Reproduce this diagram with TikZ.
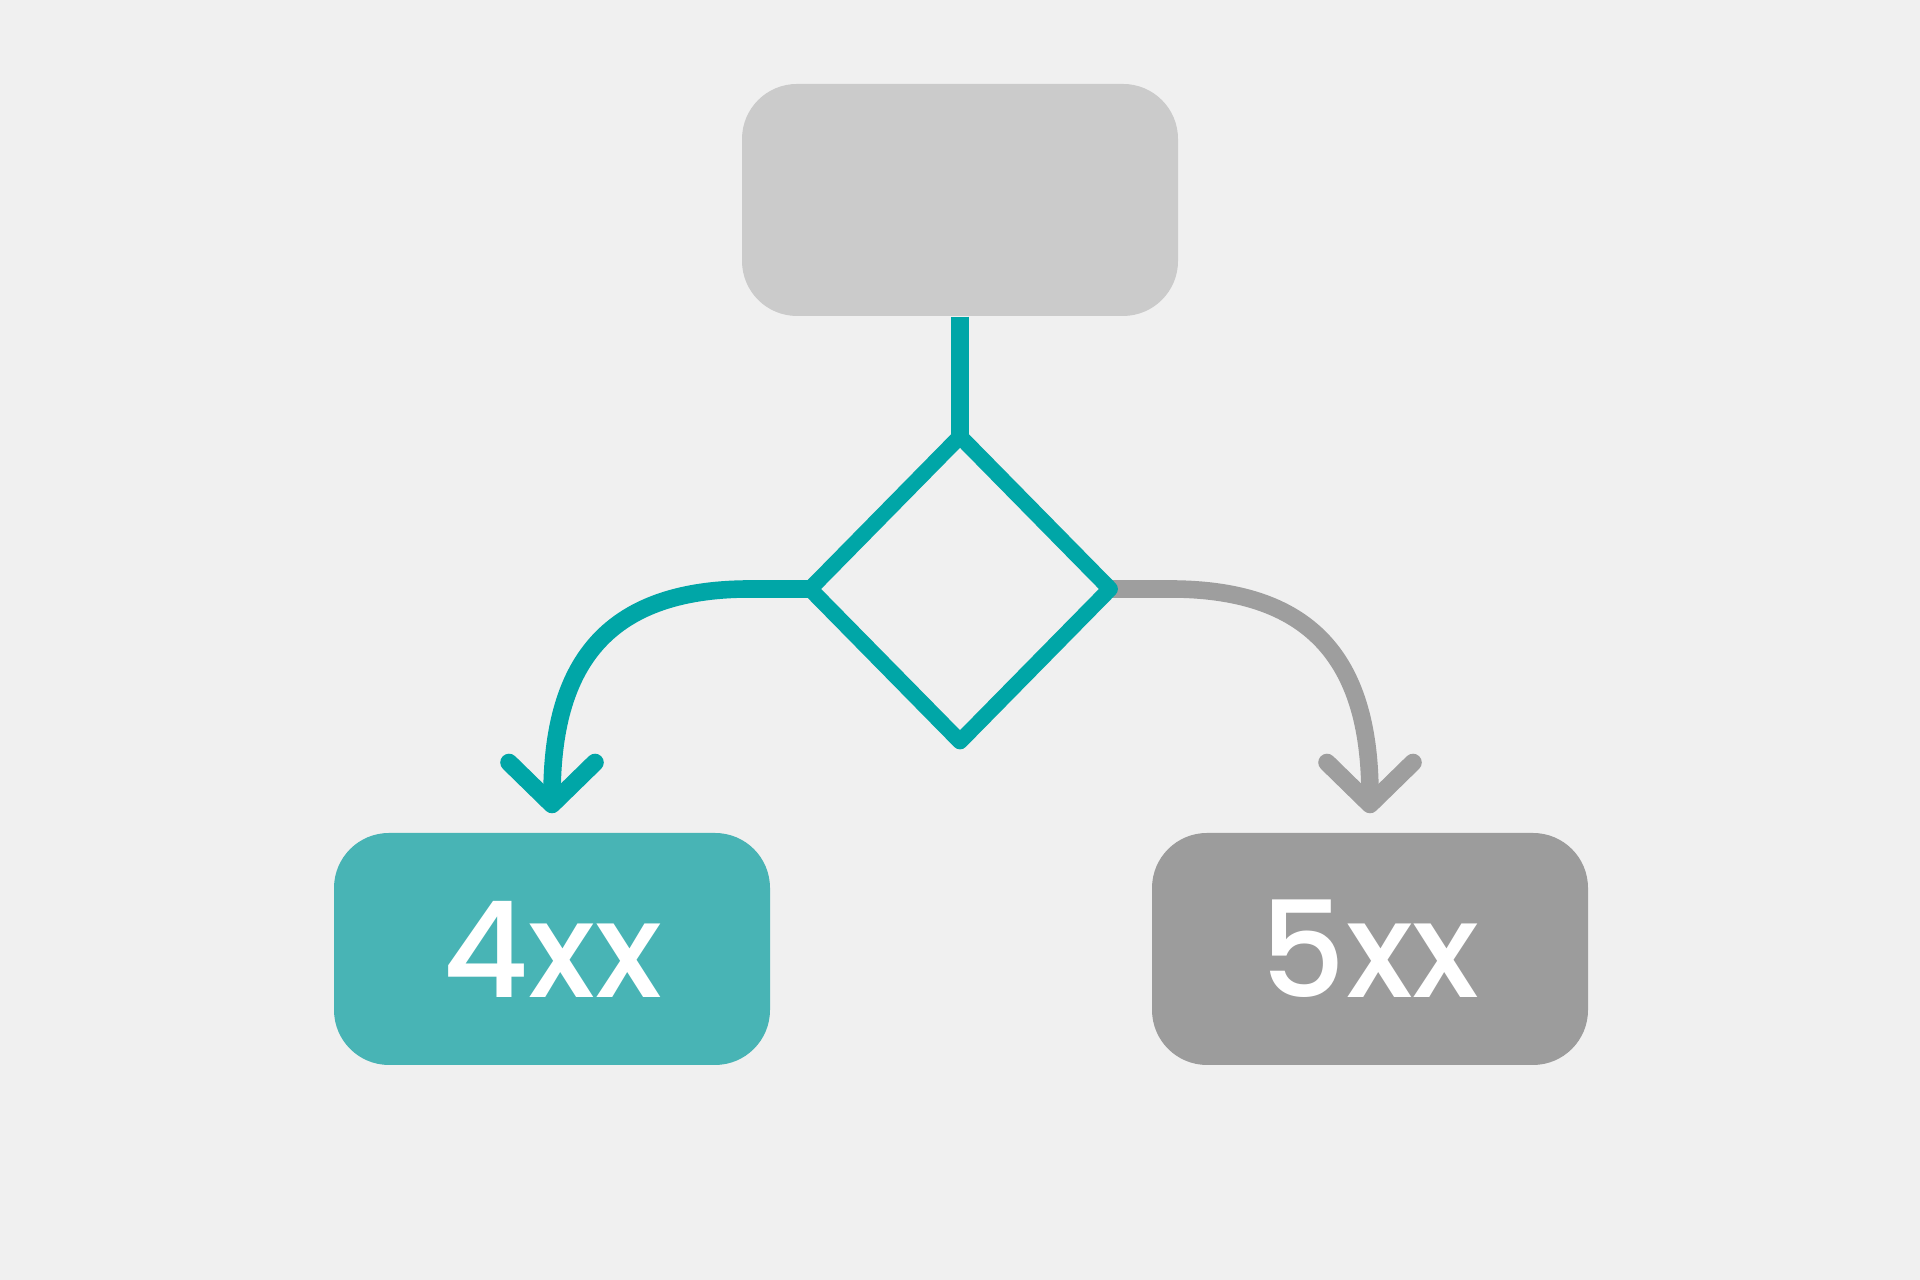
\documentclass[tikz,border=0pt]{standalone}
\usepackage{fontspec}
\setmainfont{Poppins}[BoldFont={Poppins Medium}]
\usetikzlibrary{shapes.geometric,arrows.meta,backgrounds}
\definecolor{bgcol}{HTML}{F0F0F0}
\definecolor{topgray}{HTML}{CBCBCB}
\definecolor{linkteal}{HTML}{00A6A7}
\definecolor{tealbox}{HTML}{48B4B5}
\definecolor{graybox}{HTML}{9C9C9C}
\definecolor{arrgray}{HTML}{9E9E9E}
\begin{document}
\begin{tikzpicture}
  \tikzstyle{box}=[rounded corners=0.55cm, minimum width=4.36cm, minimum height=2.32cm, inner sep=0pt]
  \tikzstyle{code}=[text=white, font=\fontsize{38}{40}\selectfont\bfseries]
  \tikzstyle{link}=[line width=5pt, line cap=round, -{Straight Barb[length=0.42cm,width=0.86cm,round]}]
  \useasboundingbox (0,0) rectangle (19.2,12.8);
  \node[box, fill=topgray] (req) at (9.6,10.8){};
  \node[box, fill=tealbox, code] (c4) at (5.52,3.31){4xx};
  \node[box, fill=graybox, code] (c5) at (13.7,3.31){5xx};
  \node[diamond, draw=linkteal, line width=4.5pt, line join=round, outer sep=0pt, minimum width=3.0cm, minimum height=3.05cm, inner sep=0pt] (check) at (9.6,6.91){};

  \begin{pgfonlayer}{background}
  \fill[bgcol] (0,0) rectangle (19.2,12.8);
  \draw[linkteal, line width=4.9pt] (req.south) -- (check.north);
  \draw[link, linkteal] (check.west) -- ++(-0.6,0) to[out=180,in=90,looseness=1.25] ([yshift=0.19cm]c4.north);
  \draw[link, arrgray] (check.east) -- ++(0.6,0) to[out=0,in=90,looseness=1.25] ([yshift=0.19cm]c5.north);
  \end{pgfonlayer}
\end{tikzpicture}
\end{document}
